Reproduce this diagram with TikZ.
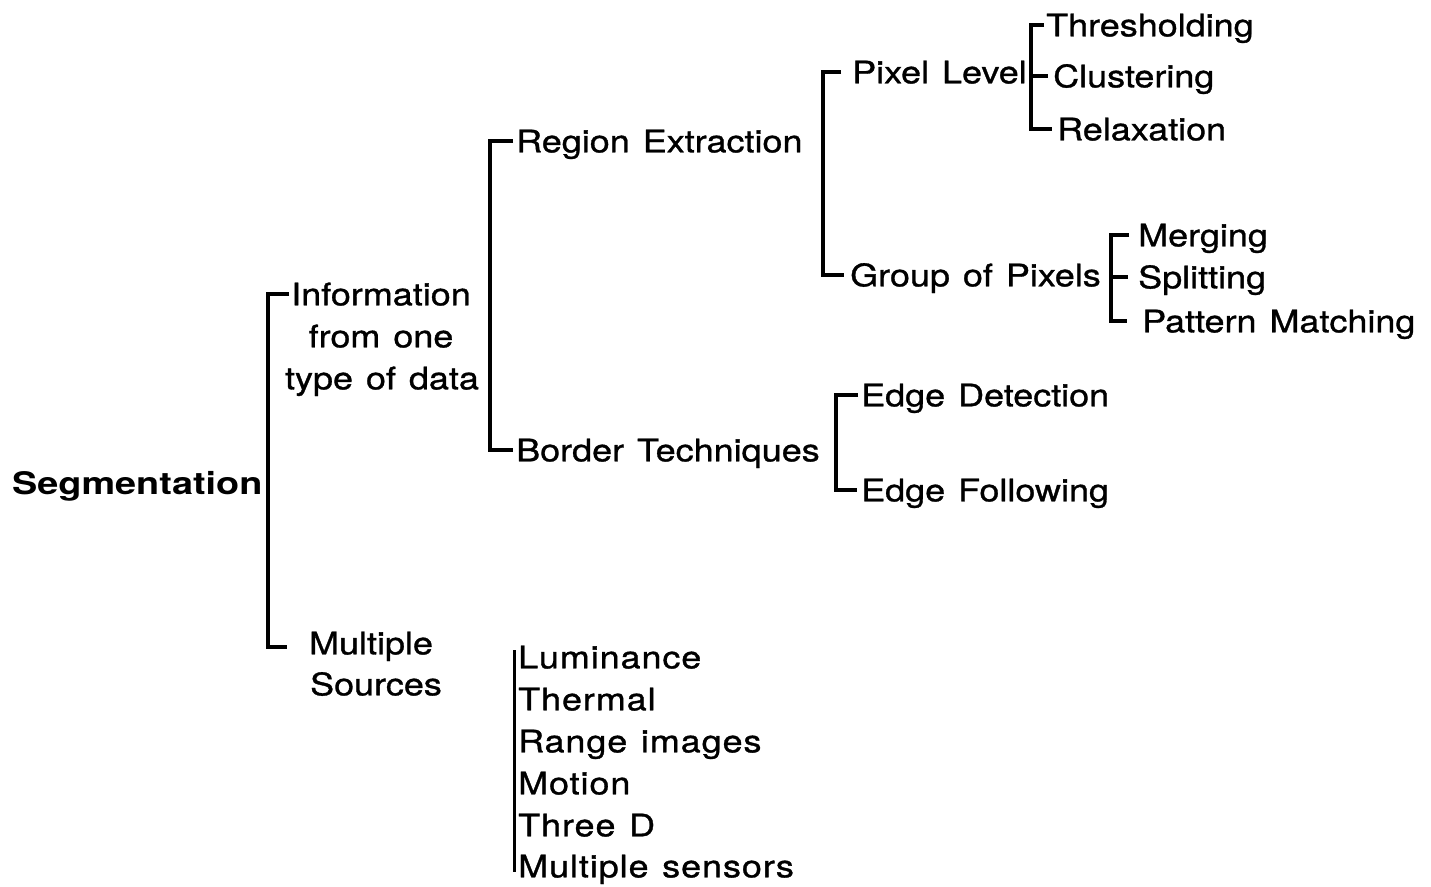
\documentclass[tikz,border=0pt]{standalone}
\usepackage{fontspec}
\setmainfont[FakeStretch=1.16, WordSpace=1.3, FakeBold=1]{TeX Gyre Heros}
\newfontfamily\segfont[FakeStretch=1.22]{TeX Gyre Heros}
\newfontfamily\listfont[FakeStretch=1.16, WordSpace=1.25, LetterSpace=3, FakeBold=1]{TeX Gyre Heros}

\begin{document}
\begin{tikzpicture}[x=1pt, y=-1pt,
  lbl/.style={inner sep=0pt, anchor=west, text height=22.6pt, text depth=0pt,
              font=\fontsize{31}{37}\selectfont},
  lblc/.style={lbl, anchor=center},
  item/.style={lbl, font=\fontsize{31}{37}\listfont},
  br/.style={line width=3.4pt, line join=miter, line cap=butt},
  list/.style={line width=3pt, line cap=butt}]
\useasboundingbox (0,0) rectangle (1431,886);

% root
\node[lbl] (seg) at (12,483) {\segfont\bfseries Segmentation};

% first level
\node[lblc] (info1) at (381,294) {Information};
\node[lblc] (info2) at (381,336) {from one};
\node[lblc] (info3) at (382,378) {type of data};
\node[lblc] (ms1) at (371,643) {Multiple};
\node[lblc] (ms2) at (376,684) {Sources};

% second level
\node[lbl] (reg)  at (516,141) {Region Extraction};
\node[lbl] (bord) at (516,450) {Border Techniques};

% third level
\node[lbl] (pix)  at (852,72)  {Pixel Level};
\node[lbl] (grp)  at (850,275) {Group of Pixels};
\node[lbl] (edet) at (861,395) {Edge Detection};
\node[lbl] (efol) at (861,490) {Edge Following};

% leaves
\node[lbl] (thr) at (1046,25)  {Thresholding};
\node[lbl] (clu) at (1053,76)  {Clustering};
\node[lbl] (rel) at (1057,129) {Relaxation};
\node[lbl] (mrg) at (1138,235) {Merging};
\node[lbl] (spl) at (1138,277) {Splitting};
\node[lbl] (pat) at (1142,321) {Pattern Matching};

% sources list
\node[item] (lum) at (518,657) {Luminance};
\node[item] (thm) at (518,699) {Thermal};
\node[item] (rng) at (518,741) {Range images};
\node[item] (mot) at (518,783) {Motion};
\node[item] (thd) at (518,825) {Three D};
\node[item] (msn) at (518,866) {Multiple sensors};

% bracket spines
\coordinate (segsp)  at (268,470);
\coordinate (infsp)  at (490,300);
\coordinate (regsp)  at (823,170);
\coordinate (bordsp) at (836,440);
\coordinate (pixsp)  at (1031,75);
\coordinate (grpsp)  at (1111,277);

% brackets
\draw[br] ([xshift=-2pt]info1.west) -| (segsp) |- ([shift={(-22,4)}]ms1.west);
\draw[br] ([xshift=-3pt]reg.west) -| (infsp) |- ([xshift=-3pt]bord.west);
\draw[br] ([xshift=-11pt]pix.west) -| (regsp) |- ([xshift=-6pt]grp.west);
\draw[br] ([xshift=-2pt]thr.west) -| (pixsp) |- ([xshift=-5pt]rel.west);
\draw[br] (pixsp |- clu.west) -- ([xshift=-5pt]clu.west);
\draw[br] ([xshift=-9pt]mrg.west) -| (grpsp) |- ([xshift=-15pt]pat.west);
\draw[br] (grpsp |- spl.west) -- ([xshift=-10pt]spl.west);
\draw[br] ([xshift=-3pt]edet.west) -| (bordsp) |- ([xshift=-4pt]efol.west);
\draw[list] ([shift={(-4,-7)}]lum.west) -- ([shift={(-4,6)}]msn.west);
\end{tikzpicture}
\end{document}
